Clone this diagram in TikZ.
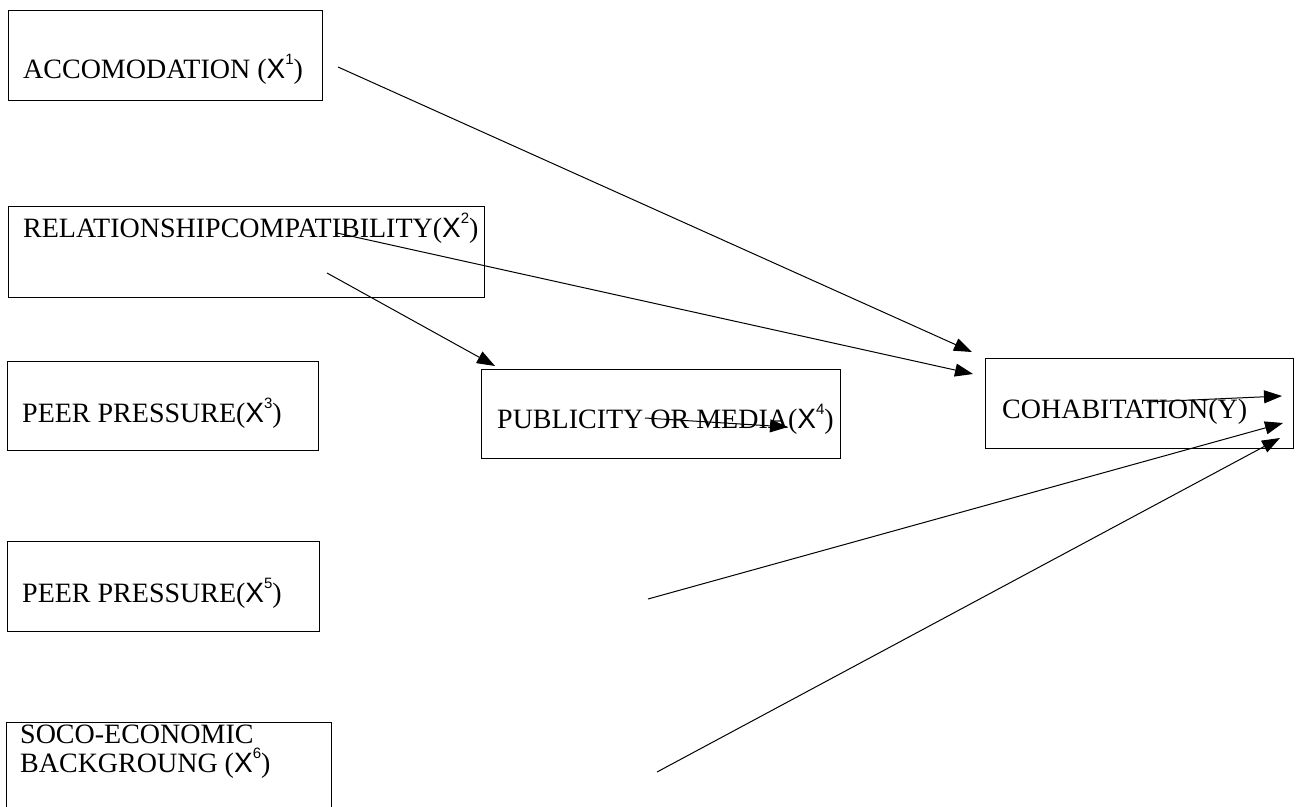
\documentclass[tikz,border=0pt]{standalone}
\usepackage{fontspec}
\setmainfont{Liberation Serif}
\newfontfamily\xsf{Liberation Sans}
\usetikzlibrary{arrows.meta}
\newcommand{\Xs}[1]{{\xsf X}\raisebox{0.5em}{\fontsize{15}{15}\selectfont\xsf #1}}
\begin{document}
\begin{tikzpicture}[x=1pt,y=-1pt,
  box/.style={draw, line width=1.1pt, inner sep=0pt, anchor=north west},
  lbl/.style={anchor=base west, inner sep=0pt, font=\fontsize{28}{29}\selectfont},
  conn/.style={line width=1pt, -{Triangle[length=18pt,width=13pt]}}]
\useasboundingbox (0,0) rectangle (1298,806);
% boxes
\node[box, minimum width=314pt, minimum height=90pt] (b1) at (8,10) {};
\node[box, minimum width=476pt, minimum height=91pt] (b2) at (8,206) {};
\node[box, minimum width=311pt, minimum height=89pt] (b3) at (7,361) {};
\node[box, minimum width=359pt, minimum height=89pt] (b4) at (481,369) {};
\node[box, minimum width=308pt, minimum height=90pt] (by) at (985,358) {};
\node[box, minimum width=312pt, minimum height=90pt] (b5) at (7,541) {};
\node[box, minimum width=325pt, minimum height=100pt] (b6) at (6,722) {};
% labels
\node[lbl] (t1) at (23,78) {ACCOMODATION (\Xs{1})};
\node[lbl] (t2) at (23,237) {RELATIONSHIPCOMPATIBILITY(\Xs{2})};
\node[lbl] (t3) at (22,422) {PEER PRESSURE(\Xs{3})};
\node[lbl] (t4) at (497,428) {PUBLICITY OR MEDIA(\Xs{4})};
\node[lbl] (ty) at (1002,418) {COHABITATION(Y)};
\node[lbl] (t5) at (22,602) {PEER PRESSURE(\Xs{5})};
\node[lbl, anchor=north west, align=left] (t6) at (20,725) {SOCO-ECONOMIC\\BACKGROUNG (\Xs{6})};
% connector ends
\coordinate (s1) at (338,67);   \coordinate (e1) at (972,352);
\coordinate (s2) at (337,233);  \coordinate (e2) at (973,374);
\coordinate (s3) at (327,273);  \coordinate (e3) at (495,366);
\coordinate (s4) at (645,418);  \coordinate (e4) at (788,427);
\coordinate (s5) at (1147,402); \coordinate (e5) at (1282,396);
\coordinate (s6) at (648,599);  \coordinate (e6) at (1283,423);
\coordinate (s7) at (657,772);  \coordinate (e7) at (1280,438);
% connectors
\draw[conn] (s1) -- (e1);
\draw[conn] (s2) -- (e2);
\draw[conn] (s3) -- (e3);
\draw[conn] (s4) -- (e4);
\draw[conn] (s5) -- (e5);
\draw[conn] (s6) -- (e6);
\draw[conn] (s7) -- (e7);
\end{tikzpicture}
\end{document}
